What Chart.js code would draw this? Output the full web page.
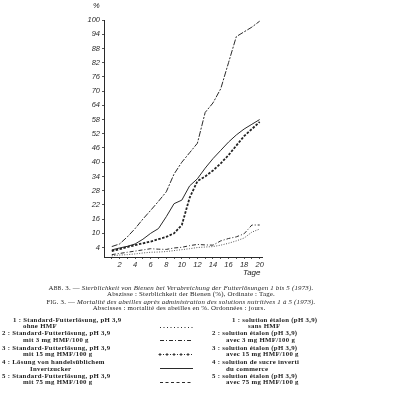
<!DOCTYPE html>
<html><head><meta charset="utf-8">
<script src="https://cdn.jsdelivr.net/npm/chart.js@4"></script>
<style>
html,body{margin:0;padding:0;background:#fff;}
#wrap{position:relative;width:400px;height:398px;overflow:hidden;background:#fff;}
canvas{position:absolute;left:0;top:0;}
.t{position:absolute;font-family:"Liberation Serif","DejaVu Serif",serif;font-size:6.8px;letter-spacing:0.3px;color:#222;white-space:nowrap;line-height:7px;font-weight:bold;}
.c{left:0;width:362px;text-align:center;font-weight:normal;font-size:6.9px;letter-spacing:0.2px;}
.sc{font-size:5.5px;}
.ax{position:absolute;font-family:"Liberation Sans","DejaVu Sans",sans-serif;font-style:italic;font-size:7.5px;color:#222;line-height:8px;}
</style></head><body>
<div id="wrap">
<canvas id="c" width="400" height="398"></canvas>
<div class="ax" style="left:93px;top:2px;">%</div>
<div class="ax" style="left:243px;top:269px;font-size:8px;">Tage</div>

<div class="t c" style="top:284px;">A<span class="sc">BB</span>. 3. — <i>Sterblichkeit von Bienen bei Verabreichung der Futterlösungen 1 bis 5 (1973).</i></div>
<div class="t c" style="top:290px;left:10px;">Abszisse : Sterblichkeit der Bienen (%), Ordinate : Tage.</div>
<div class="t c" style="top:298px;">F<span class="sc">IG</span>. 3. — <i>Mortalité des abeilles après administration des solutions nutritives 1 à 5 (1973).</i></div>
<div class="t c" style="top:304px;left:-2px;">Abscisses : mortalité des abeilles en %. Ordonnées : jours.</div>

<div class="t" style="left:13px;top:315.5px;">1 : Standard-Futterlösung, pH 3,9</div>
<div class="t" style="left:23px;top:322px;">ohne HMF</div>
<div class="t" style="left:2px;top:329px;">2 : Standard-Futterlösung, pH 3,9</div>
<div class="t" style="left:23px;top:336px;">mit 3 mg HMF/100 g</div>
<div class="t" style="left:2px;top:343.5px;">3 : Standard-Futterlösung, pH 3,9</div>
<div class="t" style="left:23px;top:350px;">mit 15 mg HMF/100 g</div>
<div class="t" style="left:2px;top:358px;">4 : Lösung von handelsüblichem</div>
<div class="t" style="left:30px;top:364.5px;">Invertzucker</div>
<div class="t" style="left:2px;top:371.5px;">5 : Standard-Futterlösung, pH 3,9</div>
<div class="t" style="left:23px;top:378px;">mit 75 mg HMF/100 g</div>

<div class="t" style="left:232px;top:315.5px;">1 : solution étalon (pH 3,9)</div>
<div class="t" style="left:248px;top:322px;">sans HMF</div>
<div class="t" style="left:212px;top:329px;">2 : solution étalon (pH 3,9)</div>
<div class="t" style="left:226px;top:336px;">avec 3 mg HMF/100 g</div>
<div class="t" style="left:212px;top:343.5px;">3 : solution étalon (pH 3,9)</div>
<div class="t" style="left:226px;top:350px;">avec 15 mg HMF/100 g</div>
<div class="t" style="left:212px;top:358px;">4 : solution de sucre inverti</div>
<div class="t" style="left:226px;top:364.5px;">du commerce</div>
<div class="t" style="left:212px;top:371.5px;">5 : solution étalon (pH 3,9)</div>
<div class="t" style="left:226px;top:378px;">avec 75 mg HMF/100 g</div>
</div>
<script>
const days = [1,2,3,4,5,6,7,8,9,10,11,12,13,14,15,16,17,18,19,20];
const xTickLabels = ['2','4','6','8','10','12','14','16','18','20'];
const yTickValues = [4,10,16,22,28,34,40,46,52,58,64,70,76,82,88,94,100];
const sol1 = [0.5,0.8,1,1.3,1.7,2,2.1,2.3,2.7,3.1,3.5,4,4.2,4.4,5,5.8,6.8,8,10.5,11.8];
const sol2 = [1,1.5,2,2.5,3,3.5,3.3,3.2,3.8,4.1,4.8,5.3,5.1,5,6.8,7.8,8.5,9.8,13.5,13.5];
const sol3 = [2.5,3.3,4.2,5,5.8,6.5,7.5,8.5,10,13.5,25,32,34,36.5,39.5,43,47,51,54,57];
const sol4 = [3,3.8,4.5,5.5,7.5,10,12,17,22.5,24,30,33,37.5,41.5,45,48.5,51.5,54,56,58];
const sol5 = [4.4,5.5,8.5,12,16,19.7,23.5,27.5,35,40,44,48,61,65,71,82,93,95,97,99.5];

const ink = '#2a2a2a';
function pts(arr){ return arr.map((v,i)=>({x:days[i], y:v})); }

const legendSamples = {
  id:'legendSamples',
  afterDraw(chart){
    const c = chart.ctx;
    const x0 = 160, x1 = 193;
    c.save();
    c.strokeStyle = ink; c.lineWidth = 1;
    const draw = (y, dash, w) => {
      c.setLineDash(dash); c.lineWidth = w;
      c.beginPath(); c.moveTo(x0,y); c.lineTo(x1,y); c.stroke();
    };
    draw(327.5,[1,2.5],1);
    draw(340.5,[4,2,1,2],1);
    c.setLineDash([]); c.lineWidth = 0.9;
    for(let x=x0; x<=x1; x+=7){
      c.beginPath(); c.moveTo(x-1.5,354.5); c.lineTo(x+1.5,354.5);
      c.moveTo(x,353); c.lineTo(x,356); c.stroke();
      if(x+3.5<=x1){ c.fillStyle = ink; c.fillRect(x+3,354,1,1); }
    }
    draw(368.5,[],1);
    draw(382.5,[3,2.5],1);
    c.restore();
  }
};

const tickFont = {family:'"Liberation Sans","DejaVu Sans",sans-serif', size:7.5, style:'italic'};

new Chart(document.getElementById('c'), {
  type:'line',
  data:{
    datasets:[
      {label:'1', data:pts(sol1), borderColor:'#555', borderWidth:1, borderDash:[1,1.5]},
      {label:'2', data:pts(sol2), borderColor:ink, borderWidth:1, borderDash:[4,2,1,2]},
      {label:'3', data:pts(sol3), borderColor:'#222', borderWidth:1.8, borderDash:[2.5,1.5]},
      {label:'4', data:pts(sol4), borderColor:ink, borderWidth:1},
      {label:'5', data:pts(sol5), borderColor:ink, borderWidth:1, borderDash:[6,1.5,2,1.5]}
    ]
  },
  options:{
    responsive:false, animation:false,
    layout:{padding:{left:74, right:138, top:20, bottom:121}},
    elements:{point:{radius:0}, line:{tension:0}},
    plugins:{legend:{display:false}, tooltip:{enabled:false}},
    scales:{
      x:{type:'linear', min:0, max:20.3,
        afterFit:s=>{s.height=20;},
        afterBuildTicks:s=>{s.ticks = days.map(v=>({value:v}));},
        ticks:{autoSkip:false, maxRotation:0, padding:1, color:ink, font:tickFont,
          callback:v=> xTickLabels.includes(String(v)) ? String(v) : ''},
        grid:{drawOnChartArea:false, tickLength:2, color:'#555'},
        border:{color:ink, width:1}
      },
      y:{min:0, max:100,
        afterFit:s=>{s.width=30;},
        afterBuildTicks:s=>{s.ticks = yTickValues.map(v=>({value:v}));},
        ticks:{autoSkip:false, padding:2, color:ink, font:tickFont},
        grid:{drawOnChartArea:false, tickLength:2, color:'#555'},
        border:{color:ink, width:1}
      }
    }
  },
  plugins:[legendSamples]
});
</script>
</body></html>
